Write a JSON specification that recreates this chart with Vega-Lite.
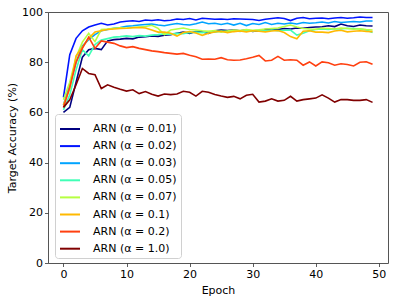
{
"$schema":"https://vega.github.io/schema/vega-lite/v6.json",
"width":340,"height":251,
"autosize":"none",
"padding":{"left":48,"top":12,"right":10,"bottom":40},
"background":"white",
"config":{"font":"DejaVu Sans","view":{"stroke":"#555","strokeWidth":1},
"axis":{"domain":false,"grid":false,"tickColor":"#333","tickSize":3.5,"tickWidth":0.8,"labelFont":"DejaVu Sans","labelFontSize":11,"labelColor":"#000","labelPadding":2,"titleFont":"DejaVu Sans","titleFontSize":11,"titleFontWeight":"normal","titleColor":"#000"}},
"data":{"values":[
{"e":0,"a":"0.01","v":60},{"e":1,"a":"0.01","v":62},{"e":2,"a":"0.01","v":72},{"e":3,"a":"0.01","v":82},{"e":4,"a":"0.01","v":85},{"e":5,"a":"0.01","v":85.5},{"e":6,"a":"0.01","v":85},{"e":7,"a":"0.01","v":88.5},{"e":8,"a":"0.01","v":89},{"e":9,"a":"0.01","v":89.2},
{"e":10,"a":"0.01","v":89.5},{"e":11,"a":"0.01","v":89.3},{"e":12,"a":"0.01","v":90},{"e":13,"a":"0.01","v":90.2},{"e":14,"a":"0.01","v":90.5},{"e":15,"a":"0.01","v":90.3},{"e":16,"a":"0.01","v":90.8},{"e":17,"a":"0.01","v":91},{"e":18,"a":"0.01","v":91.5},{"e":19,"a":"0.01","v":92},
{"e":20,"a":"0.01","v":91.5},{"e":21,"a":"0.01","v":92.2},{"e":22,"a":"0.01","v":92},{"e":23,"a":"0.01","v":91.5},{"e":24,"a":"0.01","v":92.5},{"e":25,"a":"0.01","v":92.8},{"e":26,"a":"0.01","v":92.6},{"e":27,"a":"0.01","v":92.8},{"e":28,"a":"0.01","v":92.5},{"e":29,"a":"0.01","v":92.8},
{"e":30,"a":"0.01","v":92.3},{"e":31,"a":"0.01","v":92.5},{"e":32,"a":"0.01","v":93},{"e":33,"a":"0.01","v":93.2},{"e":34,"a":"0.01","v":93},{"e":35,"a":"0.01","v":93.4},{"e":36,"a":"0.01","v":93.2},{"e":37,"a":"0.01","v":93.6},{"e":38,"a":"0.01","v":93.5},{"e":39,"a":"0.01","v":93.8},
{"e":40,"a":"0.01","v":94},{"e":41,"a":"0.01","v":94.1},{"e":42,"a":"0.01","v":94.5},{"e":43,"a":"0.01","v":94.2},{"e":44,"a":"0.01","v":95.2},{"e":45,"a":"0.01","v":94.5},{"e":46,"a":"0.01","v":94.2},{"e":47,"a":"0.01","v":94.8},{"e":48,"a":"0.01","v":94.5},{"e":49,"a":"0.01","v":94.4},
{"e":0,"a":"0.02","v":66},{"e":1,"a":"0.02","v":83},{"e":2,"a":"0.02","v":89.5},{"e":3,"a":"0.02","v":92.5},{"e":4,"a":"0.02","v":94},{"e":5,"a":"0.02","v":94.8},{"e":6,"a":"0.02","v":95.5},{"e":7,"a":"0.02","v":94.8},{"e":8,"a":"0.02","v":95.2},{"e":9,"a":"0.02","v":96},
{"e":10,"a":"0.02","v":96.3},{"e":11,"a":"0.02","v":96.5},{"e":12,"a":"0.02","v":96.2},{"e":13,"a":"0.02","v":96.8},{"e":14,"a":"0.02","v":96.6},{"e":15,"a":"0.02","v":96.9},{"e":16,"a":"0.02","v":96.5},{"e":17,"a":"0.02","v":96.7},{"e":18,"a":"0.02","v":97.2},{"e":19,"a":"0.02","v":97},
{"e":20,"a":"0.02","v":97.4},{"e":21,"a":"0.02","v":96.8},{"e":22,"a":"0.02","v":97.5},{"e":23,"a":"0.02","v":97.3},{"e":24,"a":"0.02","v":97.1},{"e":25,"a":"0.02","v":97.2},{"e":26,"a":"0.02","v":97},{"e":27,"a":"0.02","v":97.3},{"e":28,"a":"0.02","v":97.2},{"e":29,"a":"0.02","v":97.1},
{"e":30,"a":"0.02","v":97},{"e":31,"a":"0.02","v":96.6},{"e":32,"a":"0.02","v":97.1},{"e":33,"a":"0.02","v":97.4},{"e":34,"a":"0.02","v":97.7},{"e":35,"a":"0.02","v":97.4},{"e":36,"a":"0.02","v":96.6},{"e":37,"a":"0.02","v":97.5},{"e":38,"a":"0.02","v":97.8},{"e":39,"a":"0.02","v":97.3},
{"e":40,"a":"0.02","v":97.5},{"e":41,"a":"0.02","v":97.6},{"e":42,"a":"0.02","v":97.3},{"e":43,"a":"0.02","v":97.6},{"e":44,"a":"0.02","v":97.8},{"e":45,"a":"0.02","v":97.5},{"e":46,"a":"0.02","v":97.7},{"e":47,"a":"0.02","v":98},{"e":48,"a":"0.02","v":97.8},{"e":49,"a":"0.02","v":97.8},
{"e":0,"a":"0.03","v":63},{"e":1,"a":"0.03","v":71},{"e":2,"a":"0.03","v":80},{"e":3,"a":"0.03","v":86.5},{"e":4,"a":"0.03","v":89},{"e":5,"a":"0.03","v":91},{"e":6,"a":"0.03","v":92.5},{"e":7,"a":"0.03","v":93},{"e":8,"a":"0.03","v":93.5},{"e":9,"a":"0.03","v":93.8},
{"e":10,"a":"0.03","v":94.3},{"e":11,"a":"0.03","v":94.5},{"e":12,"a":"0.03","v":94.8},{"e":13,"a":"0.03","v":95},{"e":14,"a":"0.03","v":95.2},{"e":15,"a":"0.03","v":94.8},{"e":16,"a":"0.03","v":94.5},{"e":17,"a":"0.03","v":95},{"e":18,"a":"0.03","v":95.4},{"e":19,"a":"0.03","v":95},
{"e":20,"a":"0.03","v":94.8},{"e":21,"a":"0.03","v":95.3},{"e":22,"a":"0.03","v":96},{"e":23,"a":"0.03","v":95.3},{"e":24,"a":"0.03","v":95.5},{"e":25,"a":"0.03","v":95},{"e":26,"a":"0.03","v":95.5},{"e":27,"a":"0.03","v":94.8},{"e":28,"a":"0.03","v":95.5},{"e":29,"a":"0.03","v":94.6},
{"e":30,"a":"0.03","v":95.4},{"e":31,"a":"0.03","v":95},{"e":32,"a":"0.03","v":95.8},{"e":33,"a":"0.03","v":95},{"e":34,"a":"0.03","v":95.5},{"e":35,"a":"0.03","v":95.2},{"e":36,"a":"0.03","v":95.6},{"e":37,"a":"0.03","v":95.2},{"e":38,"a":"0.03","v":95.8},{"e":39,"a":"0.03","v":95.5},
{"e":40,"a":"0.03","v":95.7},{"e":41,"a":"0.03","v":96},{"e":42,"a":"0.03","v":95.6},{"e":43,"a":"0.03","v":96.2},{"e":44,"a":"0.03","v":95.8},{"e":45,"a":"0.03","v":96},{"e":46,"a":"0.03","v":96.2},{"e":47,"a":"0.03","v":96},{"e":48,"a":"0.03","v":96.4},{"e":49,"a":"0.03","v":96.4},
{"e":0,"a":"0.05","v":61},{"e":1,"a":"0.05","v":67},{"e":2,"a":"0.05","v":77},{"e":3,"a":"0.05","v":85},{"e":4,"a":"0.05","v":82.5},{"e":5,"a":"0.05","v":87},{"e":6,"a":"0.05","v":88.8},{"e":7,"a":"0.05","v":89.4},{"e":8,"a":"0.05","v":90},{"e":9,"a":"0.05","v":90.2},
{"e":10,"a":"0.05","v":90.5},{"e":11,"a":"0.05","v":90.2},{"e":12,"a":"0.05","v":90.6},{"e":13,"a":"0.05","v":90.4},{"e":14,"a":"0.05","v":90.8},{"e":15,"a":"0.05","v":91},{"e":16,"a":"0.05","v":91.3},{"e":17,"a":"0.05","v":91.2},{"e":18,"a":"0.05","v":91.5},{"e":19,"a":"0.05","v":91.4},
{"e":20,"a":"0.05","v":91.8},{"e":21,"a":"0.05","v":92},{"e":22,"a":"0.05","v":91.8},{"e":23,"a":"0.05","v":92.2},{"e":24,"a":"0.05","v":92},{"e":25,"a":"0.05","v":92.4},{"e":26,"a":"0.05","v":92.2},{"e":27,"a":"0.05","v":92.5},{"e":28,"a":"0.05","v":92.3},{"e":29,"a":"0.05","v":92.6},
{"e":30,"a":"0.05","v":92.4},{"e":31,"a":"0.05","v":92.8},{"e":32,"a":"0.05","v":92.5},{"e":33,"a":"0.05","v":92.8},{"e":34,"a":"0.05","v":92.6},{"e":35,"a":"0.05","v":92.7},{"e":36,"a":"0.05","v":92.8},{"e":37,"a":"0.05","v":90.8},{"e":38,"a":"0.05","v":91.5},{"e":39,"a":"0.05","v":92.5},
{"e":40,"a":"0.05","v":93},{"e":41,"a":"0.05","v":93.2},{"e":42,"a":"0.05","v":93},{"e":43,"a":"0.05","v":93.3},{"e":44,"a":"0.05","v":93.2},{"e":45,"a":"0.05","v":93.5},{"e":46,"a":"0.05","v":93.4},{"e":47,"a":"0.05","v":93.2},{"e":48,"a":"0.05","v":92.8},{"e":49,"a":"0.05","v":91.8},
{"e":0,"a":"0.07","v":65},{"e":1,"a":"0.07","v":72},{"e":2,"a":"0.07","v":82},{"e":3,"a":"0.07","v":88},{"e":4,"a":"0.07","v":91.5},{"e":5,"a":"0.07","v":88.2},{"e":6,"a":"0.07","v":93},{"e":7,"a":"0.07","v":93.2},{"e":8,"a":"0.07","v":93.5},{"e":9,"a":"0.07","v":93.7},
{"e":10,"a":"0.07","v":93.5},{"e":11,"a":"0.07","v":93.8},{"e":12,"a":"0.07","v":94},{"e":13,"a":"0.07","v":94.2},{"e":14,"a":"0.07","v":94.7},{"e":15,"a":"0.07","v":93.5},{"e":16,"a":"0.07","v":91},{"e":17,"a":"0.07","v":92.8},{"e":18,"a":"0.07","v":93.2},{"e":19,"a":"0.07","v":93.6},
{"e":20,"a":"0.07","v":93},{"e":21,"a":"0.07","v":92.8},{"e":22,"a":"0.07","v":92.5},{"e":23,"a":"0.07","v":92.3},{"e":24,"a":"0.07","v":92.6},{"e":25,"a":"0.07","v":92},{"e":26,"a":"0.07","v":92.4},{"e":27,"a":"0.07","v":92.8},{"e":28,"a":"0.07","v":92.6},{"e":29,"a":"0.07","v":93},
{"e":30,"a":"0.07","v":92.7},{"e":31,"a":"0.07","v":92.9},{"e":32,"a":"0.07","v":93.2},{"e":33,"a":"0.07","v":93.4},{"e":34,"a":"0.07","v":93.6},{"e":35,"a":"0.07","v":94.2},{"e":36,"a":"0.07","v":94.8},{"e":37,"a":"0.07","v":94},{"e":38,"a":"0.07","v":93.4},{"e":39,"a":"0.07","v":93.2},
{"e":40,"a":"0.07","v":93.1},{"e":41,"a":"0.07","v":93.5},{"e":42,"a":"0.07","v":93.4},{"e":43,"a":"0.07","v":93.2},{"e":44,"a":"0.07","v":93.6},{"e":45,"a":"0.07","v":93.4},{"e":46,"a":"0.07","v":93.1},{"e":47,"a":"0.07","v":93.3},{"e":48,"a":"0.07","v":93},{"e":49,"a":"0.07","v":92.8},
{"e":0,"a":"0.1","v":63},{"e":1,"a":"0.1","v":69.5},{"e":2,"a":"0.1","v":82.5},{"e":3,"a":"0.1","v":86},{"e":4,"a":"0.1","v":89.5},{"e":5,"a":"0.1","v":92},{"e":6,"a":"0.1","v":92.5},{"e":7,"a":"0.1","v":93},{"e":8,"a":"0.1","v":93.2},{"e":9,"a":"0.1","v":93.4},
{"e":10,"a":"0.1","v":93.5},{"e":11,"a":"0.1","v":93.7},{"e":12,"a":"0.1","v":93.8},{"e":13,"a":"0.1","v":93.6},{"e":14,"a":"0.1","v":92.8},{"e":15,"a":"0.1","v":92},{"e":16,"a":"0.1","v":92},{"e":17,"a":"0.1","v":91.5},{"e":18,"a":"0.1","v":90.4},{"e":19,"a":"0.1","v":91.8},
{"e":20,"a":"0.1","v":92.2},{"e":21,"a":"0.1","v":91.6},{"e":22,"a":"0.1","v":90.7},{"e":23,"a":"0.1","v":91.5},{"e":24,"a":"0.1","v":92},{"e":25,"a":"0.1","v":92.3},{"e":26,"a":"0.1","v":91.8},{"e":27,"a":"0.1","v":92.2},{"e":28,"a":"0.1","v":92.4},{"e":29,"a":"0.1","v":92.1},
{"e":30,"a":"0.1","v":92.5},{"e":31,"a":"0.1","v":92.3},{"e":32,"a":"0.1","v":92.1},{"e":33,"a":"0.1","v":92.4},{"e":34,"a":"0.1","v":92.6},{"e":35,"a":"0.1","v":91.8},{"e":36,"a":"0.1","v":90.2},{"e":37,"a":"0.1","v":89.3},{"e":38,"a":"0.1","v":92.3},{"e":39,"a":"0.1","v":92.5},
{"e":40,"a":"0.1","v":92},{"e":41,"a":"0.1","v":92},{"e":42,"a":"0.1","v":91.8},{"e":43,"a":"0.1","v":92.4},{"e":44,"a":"0.1","v":92.7},{"e":45,"a":"0.1","v":92.1},{"e":46,"a":"0.1","v":92.3},{"e":47,"a":"0.1","v":92.5},{"e":48,"a":"0.1","v":92.3},{"e":49,"a":"0.1","v":92.2},
{"e":0,"a":"0.2","v":62},{"e":1,"a":"0.2","v":70},{"e":2,"a":"0.2","v":80},{"e":3,"a":"0.2","v":85.5},{"e":4,"a":"0.2","v":90},{"e":5,"a":"0.2","v":85.5},{"e":6,"a":"0.2","v":88.5},{"e":7,"a":"0.2","v":88},{"e":8,"a":"0.2","v":87.5},{"e":9,"a":"0.2","v":86.5},
{"e":10,"a":"0.2","v":85.8},{"e":11,"a":"0.2","v":86.2},{"e":12,"a":"0.2","v":85.5},{"e":13,"a":"0.2","v":85},{"e":14,"a":"0.2","v":84.5},{"e":15,"a":"0.2","v":84.2},{"e":16,"a":"0.2","v":83.8},{"e":17,"a":"0.2","v":83.5},{"e":18,"a":"0.2","v":83.2},{"e":19,"a":"0.2","v":83.5},
{"e":20,"a":"0.2","v":82.8},{"e":21,"a":"0.2","v":82.2},{"e":22,"a":"0.2","v":81.2},{"e":23,"a":"0.2","v":81.3},{"e":24,"a":"0.2","v":81.2},{"e":25,"a":"0.2","v":81.8},{"e":26,"a":"0.2","v":81},{"e":27,"a":"0.2","v":80.8},{"e":28,"a":"0.2","v":80.9},{"e":29,"a":"0.2","v":81.4},
{"e":30,"a":"0.2","v":82},{"e":31,"a":"0.2","v":82.7},{"e":32,"a":"0.2","v":80.5},{"e":33,"a":"0.2","v":80.8},{"e":34,"a":"0.2","v":82.3},{"e":35,"a":"0.2","v":80.8},{"e":36,"a":"0.2","v":81},{"e":37,"a":"0.2","v":80.8},{"e":38,"a":"0.2","v":78.8},{"e":39,"a":"0.2","v":80.1},
{"e":40,"a":"0.2","v":78.5},{"e":41,"a":"0.2","v":80.1},{"e":42,"a":"0.2","v":79.8},{"e":43,"a":"0.2","v":78.8},{"e":44,"a":"0.2","v":79.4},{"e":45,"a":"0.2","v":79.1},{"e":46,"a":"0.2","v":78.5},{"e":47,"a":"0.2","v":80},{"e":48,"a":"0.2","v":80.2},{"e":49,"a":"0.2","v":79.2},
{"e":0,"a":"1.0","v":62},{"e":1,"a":"1.0","v":65},{"e":2,"a":"1.0","v":71},{"e":3,"a":"1.0","v":77.5},{"e":4,"a":"1.0","v":75.5},{"e":5,"a":"1.0","v":75},{"e":6,"a":"1.0","v":69.5},{"e":7,"a":"1.0","v":71},{"e":8,"a":"1.0","v":70},{"e":9,"a":"1.0","v":69.2},
{"e":10,"a":"1.0","v":68.5},{"e":11,"a":"1.0","v":69},{"e":12,"a":"1.0","v":67.5},{"e":13,"a":"1.0","v":68.3},{"e":14,"a":"1.0","v":67.2},{"e":15,"a":"1.0","v":66.5},{"e":16,"a":"1.0","v":67.3},{"e":17,"a":"1.0","v":67.1},{"e":18,"a":"1.0","v":67.3},{"e":19,"a":"1.0","v":68.4},
{"e":20,"a":"1.0","v":68},{"e":21,"a":"1.0","v":66.5},{"e":22,"a":"1.0","v":68.4},{"e":23,"a":"1.0","v":68},{"e":24,"a":"1.0","v":67.1},{"e":25,"a":"1.0","v":66.5},{"e":26,"a":"1.0","v":66},{"e":27,"a":"1.0","v":66.4},{"e":28,"a":"1.0","v":65.4},{"e":29,"a":"1.0","v":66.8},
{"e":30,"a":"1.0","v":67.2},{"e":31,"a":"1.0","v":64.1},{"e":32,"a":"1.0","v":64.5},{"e":33,"a":"1.0","v":65.4},{"e":34,"a":"1.0","v":64.5},{"e":35,"a":"1.0","v":64.8},{"e":36,"a":"1.0","v":66.4},{"e":37,"a":"1.0","v":64.5},{"e":38,"a":"1.0","v":65.1},{"e":39,"a":"1.0","v":65.4},
{"e":40,"a":"1.0","v":65.7},{"e":41,"a":"1.0","v":67},{"e":42,"a":"1.0","v":65.7},{"e":43,"a":"1.0","v":64.1},{"e":44,"a":"1.0","v":65.1},{"e":45,"a":"1.0","v":65.1},{"e":46,"a":"1.0","v":64.8},{"e":47,"a":"1.0","v":64.8},{"e":48,"a":"1.0","v":65.1},{"e":49,"a":"1.0","v":64}
]},
"mark":{"type":"line","strokeWidth":1.6,"clip":true},
"encoding":{
"x":{"field":"e","type":"quantitative","scale":{"domain":[-2.45,51.45],"nice":false,"zero":false},"axis":{"values":[0,10,20,30,40,50],"title":"Epoch","titlePadding":5}},
"y":{"field":"v","type":"quantitative","scale":{"domain":[0,100],"nice":false},"axis":{"values":[0,20,40,60,80,100],"title":"Target Accuracy (%)","titlePadding":4}},
"color":{"field":"a","type":"nominal","scale":{"domain":["0.01","0.02","0.03","0.05","0.07","0.1","0.2","1.0"],"range":["#000080","#0014ff","#00a4ff","#41ffb6","#b6ff41","#ffb900","#ff4010","#800000"]},
"legend":{"orient":"none","legendX":7,"legendY":102,"title":null,"symbolType":"stroke","symbolSize":400,"symbolStrokeWidth":2,"labelFontSize":11,"labelFont":"DejaVu Sans","labelColor":"#000","labelOffset":12,"rowPadding":1.1,"padding":4,"fillColor":"white","strokeColor":"#d0d0d0","cornerRadius":3,"labelExpr":"'ARN (α = ' + datum.label + ')'"}}
}
}
